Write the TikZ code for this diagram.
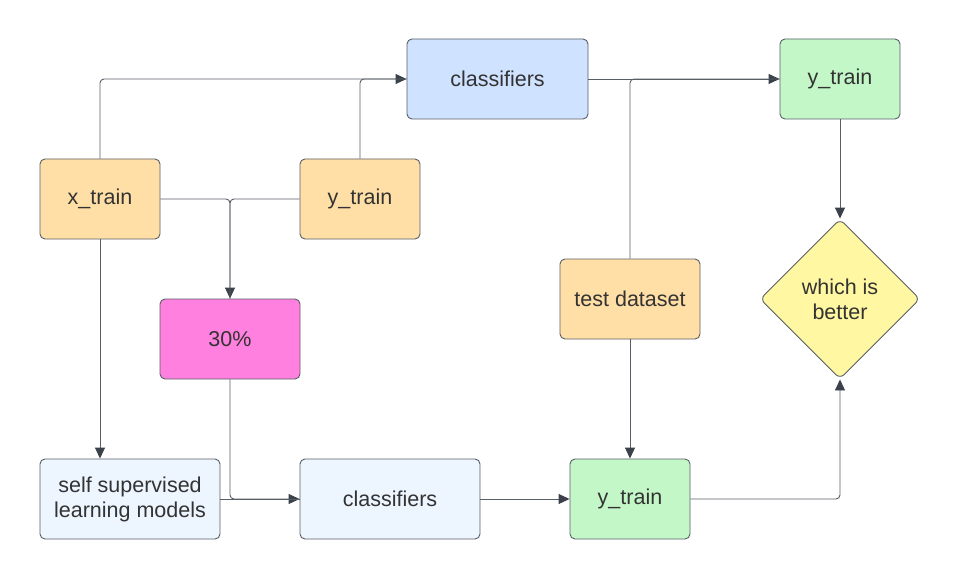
\documentclass[tikz,border=0pt]{standalone}
\usepackage{fontspec}
\setmainfont{Liberation Sans}
\usetikzlibrary{arrows.meta,positioning,shapes.geometric}
\definecolor{bluebox}{HTML}{CFE2FF}
\definecolor{paleblue}{HTML}{EDF5FF}
\definecolor{greenbox}{HTML}{C3F7C8}
\definecolor{orangebox}{HTML}{FFDFA6}
\definecolor{pinkbox}{HTML}{FF80DF}
\definecolor{yellowbox}{HTML}{FFF7A1}
\definecolor{edgegray}{HTML}{3A414A}
\definecolor{textgray}{HTML}{333333}

\begin{document}
\begin{tikzpicture}[x=1pt,y=-1pt,
        box/.style={draw=edgegray!85,rounded corners=5pt,line width=0.9pt,
          text=textgray,font=\fontsize{21.5}{25}\selectfont,align=center,
          minimum width=120pt,minimum height=80pt,inner sep=0pt},
        link/.style={draw=edgegray!85,line width=0.9pt,rounded corners=4pt},
        arr/.style={link,-{Triangle[length=11pt,width=10pt,fill=edgegray,color=edgegray]}}]
        \useasboundingbox (0,0) rectangle (960,580);

        \node[box,fill=bluebox,minimum width=181pt] (clsTop) at (497.5,79) {classifiers};
        \node[box,fill=greenbox] (ytrainTop) at (840,79) {y\_train};
        \node[box,fill=orangebox] (xtrain) at (100,199) {x\_train};
        \node[box,fill=orangebox] (ytrain) at (360,199) {y\_train};
        \node[box,fill=pinkbox,minimum width=140pt] (pct) at (230,339) {30\%};
        \node[box,fill=orangebox,minimum width=140pt] (test) at (630,299) {test dataset};
        \node[box,fill=yellowbox,diamond,rounded corners=6pt,minimum width=160pt,minimum height=160pt] (better) at (840,299) {which is\\better};
        \node[box,fill=paleblue,minimum width=180pt] (ssl) at (130,499) {self supervised\\learning models};
        \node[box,fill=paleblue,minimum width=180pt] (clsBot) at (390,499) {classifiers};
        \node[box,fill=greenbox] (ytrainBot) at (630,499) {y\_train};

        \draw[arr] (xtrain.north) |- (clsTop.west);
        \draw[link] (ytrain.north) |- (clsTop.west);
        \draw[arr] (xtrain.east) -| (pct.north);
        \draw[link] (ytrain.west) -| (pct.north);
        \draw[arr] (xtrain.south) -- (xtrain.south |- ssl.north);
        \draw[arr] (pct.south) |- (clsBot.west);
        \draw[link] (ssl.east) -- (clsBot.west);
        \draw[arr] (clsBot.east) -- (ytrainBot.west);
        \draw[arr] (test.south) -- (ytrainBot.north);
        \draw[arr] (clsTop.east) -- (ytrainTop.west);
        \draw[link] (test.north) |- (ytrainTop.west);
        \draw[arr] (ytrainTop.south) -- (better.north);
        \draw[arr] (ytrainBot.east) -| (better.south);
      \end{tikzpicture}
\end{document}
